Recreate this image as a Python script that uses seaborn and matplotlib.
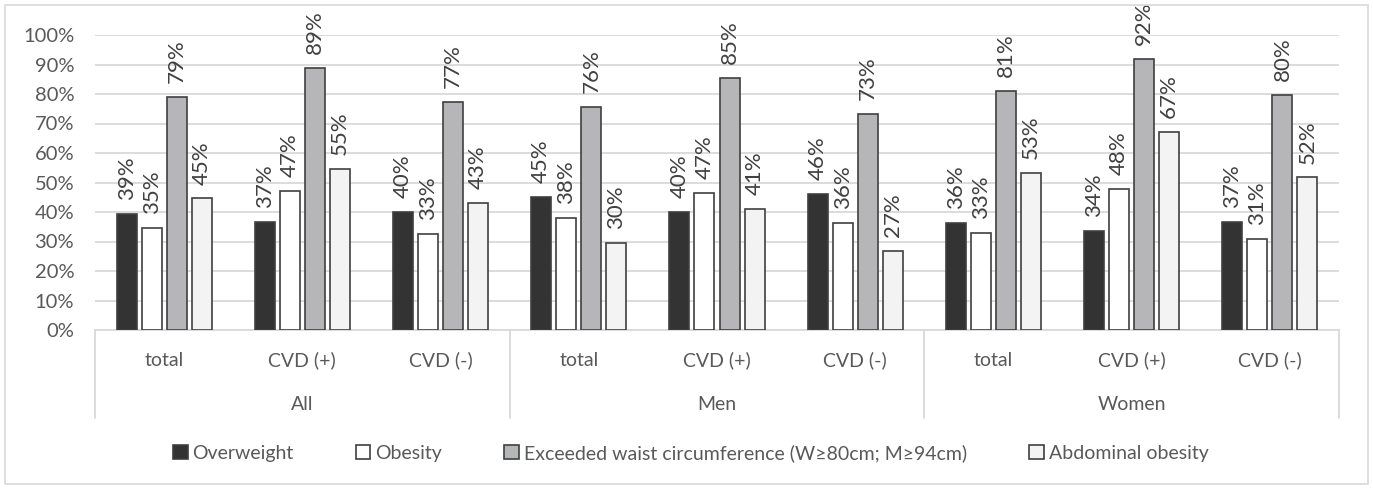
import matplotlib
matplotlib.use("Agg")
import pandas as pd
import matplotlib.pyplot as plt
import matplotlib.patches as mpatches
import seaborn as sns

groups = ["All", "Men", "Women"]
subgroups = ["total", "CVD (+)", "CVD (-)"]
series = [
    "Overweight",
    "Obesity",
    "Exceeded waist circumference (W≥80cm; M≥94cm)",
    "Abdominal obesity",
]

# values per category: All total, All CVD+, All CVD-, Men ..., Women ...
overweight = [39.4, 36.6, 40.0, 45.0, 39.9, 46.2, 36.3, 33.6, 36.6]
obesity    = [34.7, 47.2, 32.7, 38.1, 46.6, 36.2, 32.9, 47.9, 30.8]
waist      = [78.9, 88.8, 77.3, 75.6, 85.3, 73.2, 80.9, 92.0, 79.6]
abdominal  = [44.6, 54.6, 43.1, 29.6, 41.0, 26.9, 53.3, 67.0, 51.7]

# fmt: off
COLORS    = ["#333333", "#ffffff", "#b5b6b9", "#f2f3f2"]
EDGE      = "#404040"
TEXT_GRAY = "#595959"
GRID      = "#d9d9d9"
# fmt: on

categories = [f"{g}|{s}" for g in groups for s in subgroups]
rows = []
for name, vals in zip(series, [overweight, obesity, waist, abdominal]):
    for cat, v in zip(categories, vals):
        rows.append({"cat": cat, "series": name, "value": v})
df = pd.DataFrame(rows)

sns.set_style("white")
plt.rcParams["font.family"] = ["Lato", "DejaVu Sans"]

W, H = 1373, 488
fig = plt.figure(figsize=(W / 100, H / 100), dpi=100)
ax = fig.add_axes([95 / W, 1 - 330 / H, (1339 - 95) / W, (330 - 35) / H])

sns.barplot(
    data=df, x="cat", y="value", hue="series", order=categories, hue_order=series,
    palette=COLORS, edgecolor=EDGE, linewidth=1.2, width=0.724, gap=0.2,
    legend=False, ax=ax, zorder=3,
)

for cont in ax.containers:
    ax.bar_label(cont, labels=[f"{b.get_height():.0f}%" for b in cont],
                 rotation=90, padding=10, fontsize=16, color="#404040")

ax.set_xlim(-0.5, len(categories) - 0.5)
ax.set_ylim(0, 100)
ax.set_yticks(range(0, 101, 10))
ax.set_yticklabels([f"{t}%" for t in range(0, 101, 10)], fontsize=14.5, color=TEXT_GRAY)
ax.tick_params(axis="y", length=0, pad=15)
ax.set_xticks([])
ax.set_xlabel("")
ax.set_ylabel("")
ax.grid(axis="y", color=GRID, linewidth=1.3, zorder=0)
ax.set_axisbelow(True)
for side in ["top", "right", "left"]:
    ax.spines[side].set_visible(False)
ax.spines["bottom"].set_color(GRID)
ax.spines["bottom"].set_linewidth(1.3)

# two-level category axis
trans = ax.get_xaxis_transform()
ph = 330 - 35
for i, cat in enumerate(categories):
    ax.text(i, -30 / ph, cat.split("|")[1], transform=trans, ha="center", va="center",
            fontsize=14, color=TEXT_GRAY)
for j, g in enumerate(groups):
    ax.text(3 * j + 1, -75 / ph, g, transform=trans, ha="center", va="center",
            fontsize=14, color=TEXT_GRAY)
for xs in [-0.5, 2.5, 5.5, 8.5]:
    ax.plot([xs, xs], [0, -88 / ph], transform=trans, color=GRID, linewidth=1.3,
            clip_on=False)

handles = [mpatches.Patch(facecolor=c, edgecolor=EDGE, linewidth=1.2, label=s)
           for c, s in zip(COLORS, series)]
fig.legend(handles=handles, loc="center", bbox_to_anchor=(0.503, 1 - 453 / H), ncol=4,
           frameon=False, fontsize=14, handlelength=0.75, handleheight=0.75,
           handletextpad=0.25, columnspacing=3.2, labelcolor=TEXT_GRAY)

fig.patches.append(mpatches.Rectangle((5 / W, 4 / H), 1363 / W, 479 / H, transform=fig.transFigure,
                                      fill=False, edgecolor=GRID, linewidth=1.2))

fig.savefig("out.png", dpi=100, facecolor="white")
